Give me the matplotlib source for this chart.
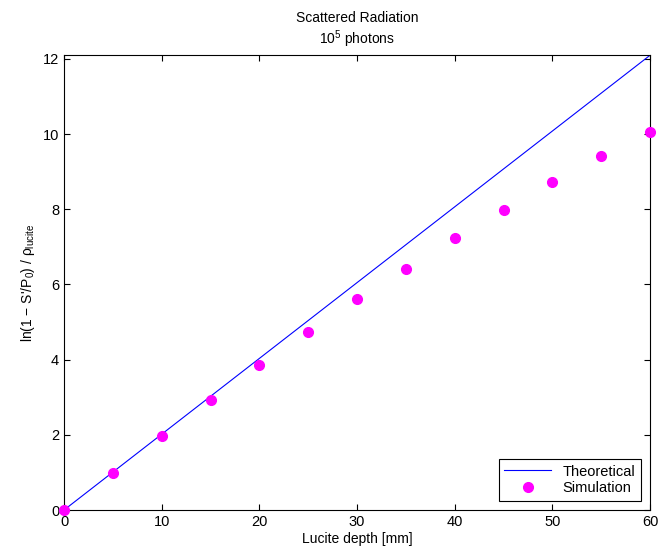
import numpy as np
import matplotlib
matplotlib.use("Agg")
import matplotlib.pyplot as plt

plt.rcParams['font.family'] = ['Liberation Sans', 'DejaVu Sans']
plt.rcParams['mathtext.fontset'] = 'custom'
plt.rcParams['mathtext.rm'] = 'Liberation Sans'
plt.rcParams['mathtext.it'] = 'Liberation Sans'

# 数据
depth = [0, 5, 10, 15, 20, 25, 30, 35, 40, 45, 50, 55, 60]
simulation = [0, 0.99, 1.97, 2.93, 3.86, 4.74, 5.61, 6.42, 7.23, 7.98, 8.72, 9.41, 10.05]
theory_x = [0, 60]
theory_y = [0, 12.1]

fig = plt.figure(figsize=(6.6, 5.56), dpi=100)
ax = fig.add_axes([0.097, 0.0827, 0.888, 0.818])

ax.plot(theory_x, theory_y, color='blue', lw=0.8, label='Theoretical')
ax.plot(depth, simulation, 'o', color='magenta', markersize=7, label='Simulation',
        clip_on=False, zorder=3)

ax.set_xlim(0, 60)
ax.set_ylim(0, 12.1)
ax.set_xticks(range(0, 61, 10))
ax.set_yticks(range(0, 13, 2))
ax.tick_params(direction='in', top=True, right=True, labelsize=10.5, length=4)
for s in ax.spines.values():
    s.set_linewidth(0.8)

ax.set_xlabel('Lucite depth [mm]', fontsize=10, labelpad=2)
ax.set_ylabel(r"ln(1 $-$ S'/P$_0$) / $\rho_{\mathrm{lucite}}$", fontsize=10)
ax.set_title('Scattered Radiation\n10$^5$ photons', fontsize=10, pad=8)

leg = ax.legend(loc='lower right', fontsize=10.5, fancybox=False, edgecolor='black',
                framealpha=1, borderaxespad=0.6, handlelength=3.2, labelspacing=0.2)
leg.get_frame().set_linewidth(0.8)

plt.savefig('out.png', dpi=100)
